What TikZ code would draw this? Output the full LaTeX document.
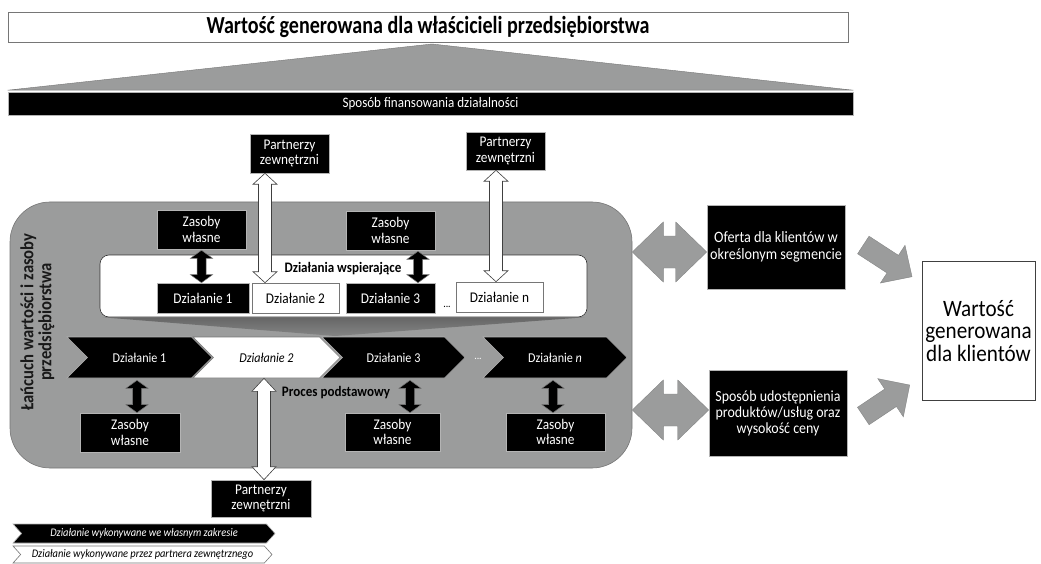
\documentclass[tikz,border=0pt]{standalone}
\usepackage{fontspec}
\setmainfont{Carlito}[FakeStretch=0.9]
\newfontfamily\titlefont{Carlito}[FakeStretch=0.82]
\usetikzlibrary{calc,shapes.symbols}
\definecolor{midgrey}{HTML}{9B9C9C}
\definecolor{edgegrey}{HTML}{767676}
\definecolor{lightedge}{HTML}{B4B4B4}
\definecolor{shadegrey}{HTML}{666666}

% double block arrow: style, A, B, head length, head half width, shaft half width
\newcommand\blockdbl[6]{%
  \path[#1] (#2)
    -- ($(#2)!#4!(#3)!#5!90:(#3)$)
    -- ($(#2)!#4!(#3)!#6!90:(#3)$)
    -- ($(#3)!#4!(#2)!#6!-90:(#2)$)
    -- ($(#3)!#4!(#2)!#5!-90:(#2)$)
    -- (#3)
    -- ($(#3)!#4!(#2)!#5!90:(#2)$)
    -- ($(#3)!#4!(#2)!#6!90:(#2)$)
    -- ($(#2)!#4!(#3)!#6!-90:(#3)$)
    -- ($(#2)!#4!(#3)!#5!-90:(#3)$)
    -- cycle;}
% single block arrow: style, tail, tip, head length, head half width, shaft half width
\newcommand\blocksgl[6]{%
  \path[#1] ($(#2)!#6!90:(#3)$)
    -- ($(#3)!#4!(#2)!#6!-90:(#2)$)
    -- ($(#3)!#4!(#2)!#5!-90:(#2)$)
    -- (#3)
    -- ($(#3)!#4!(#2)!#5!90:(#2)$)
    -- ($(#3)!#4!(#2)!#6!90:(#2)$)
    -- ($(#2)!#6!-90:(#3)$)
    -- cycle;}

\tikzset{
  bbox/.style={rectangle, fill=black, draw=lightedge, line width=0.6pt, text=white, align=center, inner sep=0pt, font=\fontsize{14.8}{15.5}\selectfont},
  wbox/.style={rectangle, fill=white, draw=edgegrey, line width=0.6pt, text=black, align=center, inner sep=0pt, font=\fontsize{14.8}{15.5}\selectfont},
  chevB/.style={signal, signal to=east, signal from=west, signal pointer angle=90, fill=black, draw=lightedge, line width=0.6pt, text=white, minimum height=41pt, inner sep=0pt, font=\fontsize{13.5}{15}\selectfont},
  chevW/.style={chevB, fill=white, draw=edgegrey, text=black},
  blackarr/.style={fill=black, draw=edgegrey, line width=0.5pt},
  whitearr/.style={fill=white, draw=black!75, line width=0.6pt},
  greyarr/.style={fill=midgrey, draw=midgrey!85!black, line width=0.4pt},
  plainlbl/.style={inner sep=0pt, align=center},
}

\begin{document}
\begin{tikzpicture}[x=1pt,y=-1pt]
\useasboundingbox (0,0) rectangle (1041,564);

% ---- top: owners' value and financing
\node[wbox, minimum width=840pt, minimum height=30pt, font=\titlefont\bfseries\fontsize{24.5}{26}\selectfont] (owner) at (428,27) {Wartość generowana dla właścicieli przedsiębiorstwa};
\node[bbox, minimum width=845pt, minimum height=23pt, font=\fontsize{14.5}{15}\selectfont] (fin) at (430.5,104) {Sposób finansowania działalności};
\coordinate (apex) at (432,44);
\path[fill=midgrey, draw=edgegrey, line width=0.4pt] ([yshift=2pt]fin.north west) -- (apex) -- ([yshift=2pt]fin.north east) -- cycle;

% ---- value chain region
\node[rectangle, rounded corners=40pt, fill=midgrey, draw=edgegrey, line width=0.6pt, minimum width=622pt, minimum height=266pt, inner sep=0pt] (chain) at (321,335) {};
\node[plainlbl, rotate=90, text=black!90, font=\bfseries\fontsize{18.5}{18}\selectfont] (chainlbl) at (37.5,322) {Łańcuch wartości i zasoby\\przedsiębiorstwa};

% ---- support activities
\node[rectangle, rounded corners=9pt, fill=white, draw=black!80, line width=0.6pt, minimum width=487pt, minimum height=62pt] (supp) at (343.5,286) {};
\coordinate (shapex) at (335,336);
\path[top color=shadegrey, bottom color=midgrey!85!black] ([xshift=3pt]supp.south west) -- ([xshift=-3pt]supp.south east) -- (shapex) -- cycle;
\node[plainlbl, font=\bfseries\fontsize{14.5}{16}\selectfont] (supplbl) at (343,269) {Działania wspierające};

\node[bbox, minimum width=92pt, minimum height=30pt] (d1) at (203,298) {Działanie 1};
\node[wbox, minimum width=87pt, minimum height=30pt] (d2) at (295.5,298) {Działanie 2};
\node[bbox, minimum width=89pt, minimum height=30pt] (d3) at (390.5,298) {Działanie 3};
\node[wbox, minimum width=87pt, minimum height=30pt] (dn) at (499.5,297) {Działanie n};
\node[plainlbl, font=\fontsize{11}{12}\selectfont] (dots1) at (447,307) {...};

\node[bbox, minimum width=89pt, minimum height=39pt] (z1) at (201.5,229.5) {Zasoby\\własne};
\node[bbox, minimum width=89pt, minimum height=39pt] (z2) at (390.5,230.5) {Zasoby\\własne};

\node[bbox, minimum width=79pt, minimum height=39pt] (p1) at (289.5,153.5) {Partnerzy\\zewnętrzni};
\node[bbox, minimum width=79pt, minimum height=38pt] (p2) at (505.5,151) {Partnerzy\\zewnętrzni};

\coordinate (z1a) at ([yshift=-1pt]z1.south);
\coordinate (z1b) at (z1a |- d1.north);
\blockdbl{blackarr}{z1a}{z1b}{8pt}{11pt}{4.5pt}
\coordinate (z2a) at ([xshift=27.5pt,yshift=-1pt]z2.south);
\coordinate (z2b) at (z2a |- d3.north);
\blockdbl{blackarr}{z2a}{z2b}{8pt}{11pt}{4.5pt}

\coordinate (w1a) at ([xshift=-24.5pt]p1.south);
\coordinate (w1b) at (w1a |- d2.north);
\blockdbl{whitearr}{w1a}{w1b}{11pt}{12pt}{6.5pt}
\coordinate (w2a) at ([xshift=-9.5pt]p2.south);
\coordinate (w2b) at (w2a |- dn.north);
\blockdbl{whitearr}{w2a}{w2b}{11pt}{12pt}{6.5pt}

% ---- primary process
\node[chevB, minimum width=145pt] (c1) at (139.5,357.5) {Działanie 1};
\node[chevW, minimum width=147pt, font=\itshape\fontsize{13.5}{15}\selectfont] (c2) at (266.5,357.5) {Działanie 2};
\node[chevB, minimum width=143pt] (c3) at (393.5,357.5) {Działanie 3};
\node[plainlbl, text=white, font=\fontsize{11}{12}\selectfont] (dots2) at (478,359) {...};
\node[chevB, minimum width=144pt] (cn) at (555,357.5) {Działanie \textit{n}};

\node[bbox, minimum width=100pt, minimum height=39pt] (zb1) at (130,432.5) {Zasoby\\własne};
\node[bbox, minimum width=95pt, minimum height=38pt] (zb3) at (392.5,432) {Zasoby\\własne};
\node[bbox, minimum width=99pt, minimum height=38pt] (zbn) at (555.5,432) {Zasoby\\własne};

\coordinate (k1a) at ([xshift=-2.5pt,yshift=-2pt]c1.south);
\coordinate (k1b) at (k1a |- zb1.north);
\blockdbl{blackarr}{k1a}{k1b}{8pt}{11pt}{4.5pt}
\coordinate (k3a) at ([xshift=16.5pt,yshift=-2pt]c3.south);
\coordinate (k3b) at (k3a |- zb3.north);
\blockdbl{blackarr}{k3a}{k3b}{8pt}{11pt}{4.5pt}
\coordinate (kna) at ([xshift=-2pt,yshift=-2pt]cn.south);
\coordinate (knb) at (kna |- zbn.north);
\blockdbl{blackarr}{kna}{knb}{8pt}{11pt}{4.5pt}

\node[bbox, minimum width=100pt, minimum height=37pt] (pb) at (261,498.5) {Partnerzy\\zewnętrzni};
\coordinate (w3a) at ([xshift=-2.5pt]c2.south);
\coordinate (w3b) at (w3a |- pb.north);
\blockdbl{whitearr}{w3a}{w3b}{13pt}{12pt}{6.5pt}
\node[plainlbl, font=\bfseries\fontsize{14.5}{16}\selectfont] (proc) at (336,393) {Proces podstawowy};

% ---- customer side
\node[bbox, minimum width=138pt, minimum height=84pt, font=\fontsize{15.8}{16.5}\selectfont] (offer) at (776,247) {Oferta dla klientów w\\określonym segmencie};
\node[bbox, minimum width=138pt, minimum height=86pt, font=\fontsize{15.5}{16}\selectfont] (way) at (778,413) {Sposób udostępnienia\\produktów/usług oraz\\wysokość ceny};
\node[wbox, draw=black!75, minimum width=113pt, minimum height=139pt, font=\fontsize{23.5}{22.5}\selectfont] (kl) at (978.5,331) {Wartość\\generowana\\dla klientów};

\coordinate (g1b) at ([yshift=-5pt]offer.west);
\coordinate (g1a) at (g1b -| chain.east);
\blockdbl{greyarr}{g1a}{g1b}{31pt}{30pt}{16pt}
\coordinate (g2b) at ([yshift=3pt]way.west);
\coordinate (g2a) at (g2b -| chain.east);
\blockdbl{greyarr}{g2a}{g2b}{31pt}{30pt}{16pt}

\coordinate (s1a) at ([xshift=18pt,yshift=2pt]offer.east);
\coordinate (s1b) at ([xshift=-9.7pt,yshift=54.3pt]kl.west);
\blocksgl{greyarr}{s1a}{s1b}{23pt}{22.5pt}{10.5pt}
\coordinate (s2a) at ([xshift=16pt,yshift=-3pt]way.east);
\coordinate (s2b) at ([xshift=-12pt,yshift=-54pt]kl.west);
\blocksgl{greyarr}{s2a}{s2b}{23pt}{23pt}{10.5pt}

% ---- legend
\node[chevB, signal pointer angle=96, minimum width=262pt, minimum height=19pt, font=\itshape\fontsize{11.6}{12}\selectfont] (leg1) at (144,533.5) {Działanie wykonywane we własnym zakresie};
\node[chevW, signal pointer angle=96, minimum width=259pt, minimum height=17pt, font=\itshape\fontsize{11.6}{12}\selectfont] (leg2) at (142.5,554.5) {Działanie wykonywane przez partnera zewnętrznego};
\end{tikzpicture}
\end{document}
